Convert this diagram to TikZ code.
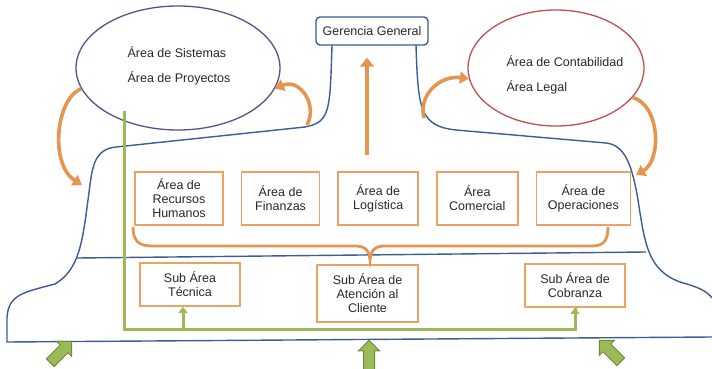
\documentclass[tikz,border=0pt]{standalone}
\usepackage{fontspec}
\setmainfont{Liberation Sans}
\usepackage{tikz}
\usetikzlibrary{positioning,calc,arrows.meta,shapes.geometric,shapes.arrows}
\usepackage{xcolor}
\definecolor{flaskblue}{RGB}{60,92,150}
\definecolor{ovalblue}{RGB}{82,82,140}
\definecolor{ovalred}{RGB}{192,80,77}
\definecolor{boxorange}{RGB}{236,162,98}
\definecolor{arroworange}{RGB}{228,150,80}
\definecolor{greenfill}{RGB}{155,187,89}
\definecolor{greendark}{RGB}{113,137,63}
\definecolor{textgray}{RGB}{40,40,40}

\begin{document}
\begin{tikzpicture}[x=1pt,y=-1pt,thick,text=textgray,
    font=\fontsize{12.5}{14}\selectfont,
    area node/.style={draw=boxorange,line width=1.6pt,fill=white,align=center,
      minimum height=53pt,inner sep=2pt},
    sub node/.style={area node,minimum height=43pt},
    oval node/.style={ellipse,line width=1.3pt},
    flask/.style={draw=flaskblue,line width=1.4pt},
    curl/.style={draw=arroworange,line width=3.6pt,-{Triangle[length=9pt,width=12pt]}},
    green line/.style={draw=greenfill,line width=3pt},
    big arrow/.style={single arrow,draw=greendark,fill=greenfill,line width=1pt,
      minimum height=30pt,inner sep=5pt,single arrow head extend=5pt}]
    \useasboundingbox (0,0) rectangle (712,369);
    % outline
      \draw[flask] (332,45) .. controls (330,112) and (330,122) .. (305,127)
        -- (116,147) .. controls (98,149) and (93,160) .. (90,185)
        .. controls (83,235) and (82,268) .. (55,284)
        .. controls (25,292) and (8,294) .. (7,318) -- (7,342) -- (712,337);
      \draw[flask] (416,45) .. controls (418,110) and (420,126) .. (456,130)
        -- (606,143) .. controls (625,145) and (632,165) .. (638,200)
        .. controls (645,245) and (648,270) .. (680,282)
        .. controls (698,287) and (707,291) .. (712,298);
      \draw[flask] (77,258) -- (646,252);
    % nodes
      \node[draw=flaskblue,line width=1.4pt,rounded corners=4pt,fill=white,
        minimum width=112pt,minimum height=28pt] (gerencia) at (372,31) {Gerencia General};
      \node[oval node,draw=ovalblue,minimum width=204pt,minimum height=124pt] (sistemas) at (178,68) {};
      \node[align=left] (sistemastxt) at (179,65.5) {Área de Sistemas\\[11pt]Área de Proyectos};
      \node[oval node,draw=ovalred,minimum width=176pt,minimum height=116pt] (contab) at (556,68) {};
      \node[align=left] (contabtxt) at (565,74.5) {Área de Contabilidad\\[11pt]Área Legal};
      \node[area node,minimum width=88pt] (rrhh) at (179,198.5) {Área de\\Recursos\\Humanos};
      \node[area node,minimum width=78pt] (finanzas) [right = 17pt of rrhh] {Área de\\Finanzas};
      \node[area node,minimum width=80pt] (logistica) [right = 17pt of finanzas] {Área de\\Logística};
      \node[area node,minimum width=81pt] (comercial) [right = 17pt of logistica] {Área\\Comercial};
      \node[area node,minimum width=94pt] (operaciones) [right = 17pt of comercial] {Área de\\Operaciones};
      \node[sub node,minimum width=100pt] (tecnica) at (190,284.5) {Sub Área\\Técnica};
      \node[sub node,minimum width=101pt,minimum height=57pt] (atencion) at (367.5,293.5) {Sub Área de\\Atención al\\Cliente};
      \node[sub node,minimum width=100pt] (cobranza) at (575,285.5) {Sub Área de\\Cobranza};
      \node[big arrow,rotate=45] (inleft) at (59,354) {};
      \node[big arrow,rotate=90] (incenter) at (369,358) {};
      \node[big arrow,rotate=135] (inright) at (612,353) {};
      \coordinate (shoulderL) at (82,185);
      \coordinate (neckL) at (307,125);
      \coordinate (neckR) at (424,118);
      \coordinate (shoulderR) at (636,175);
      \coordinate (upbase) at (367,155);
      \coordinate (gtop) at (124,111);
      \coordinate (gcorner) at (124,329);
      \coordinate (tecfoot) at ([xshift=-7pt]tecnica.south);
    %edges
      \draw[draw=arroworange,line width=4.5pt,-{Triangle[length=9pt,width=14pt]},shorten >=12pt]
        (upbase) -- (upbase |- gerencia.south);
      \draw[curl] (sistemas.192) .. controls (55,100) and (50,165) .. (shoulderL);
      \draw[curl] (neckL) .. controls (318,105) and (300,78) .. (sistemas.-12);
      \draw[curl] (neckR) .. controls (418,95) and (440,75) .. (contab.187);
      \draw[curl] (contab.-21) .. controls (660,105) and (662,160) .. (shoulderR);
      \draw[draw=arroworange,line width=2.8pt] (133,227) .. controls (133,240) and (138,246) .. (152,246)
        -- (355,246) .. controls (365,246) and (369,250) .. (370,260)
        .. controls (371,250) and (375,246) .. (385,246)
        -- (592,246) .. controls (604,246) and (608,240) .. (608,227);
      \draw[green line] (gtop) -- (gcorner) -| (cobranza.south);
      \draw[green line,-{Triangle[length=6pt,width=9pt]}] (gcorner -| cobranza.south) -- (cobranza.south);
      \draw[green line,-{Triangle[length=6pt,width=9pt]}] (tecfoot |- gcorner) -- (tecfoot);
    \end{tikzpicture}
\end{document}
